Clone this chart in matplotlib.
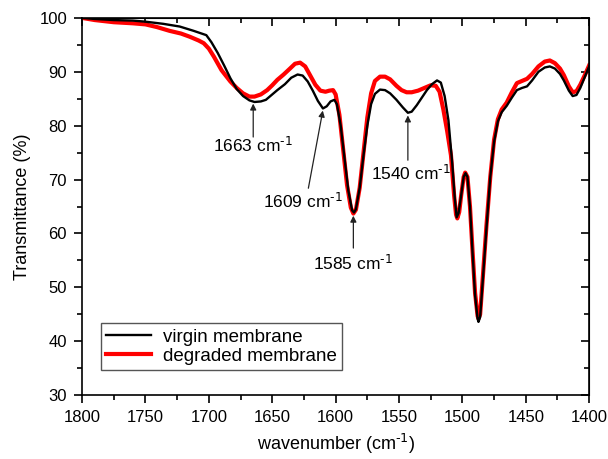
import matplotlib
matplotlib.use('Agg')
import matplotlib.pyplot as plt
from matplotlib.ticker import MultipleLocator

plt.rcParams['font.family'] = ['Liberation Sans', 'DejaVu Sans']
plt.rcParams['mathtext.default'] = 'regular'

# virgin membrane (black)
wn_virgin = [1800, 1790, 1775, 1760, 1750, 1736, 1723, 1712, 1702, 1698, 1693, 1688,
             1683, 1678, 1673, 1668, 1664, 1659, 1655, 1651, 1646, 1640, 1635, 1630,
             1626, 1622, 1618, 1614, 1610, 1607, 1604, 1601, 1599, 1596, 1593, 1590,
             1587, 1585.5, 1584, 1581, 1578, 1575, 1572, 1569, 1565, 1561, 1557, 1552,
             1547, 1543, 1540, 1536, 1532, 1528, 1524, 1520, 1517, 1514, 1511, 1508,
             1506, 1504.5, 1503, 1501, 1499, 1497.5, 1496, 1494, 1492, 1490, 1488,
             1487.3, 1486, 1484, 1481, 1478, 1475, 1472, 1469, 1465, 1461, 1457, 1453,
             1449, 1445, 1440, 1435, 1431, 1427, 1423, 1420, 1416, 1413, 1410, 1407,
             1403, 1400]
t_virgin = [100.0, 99.8, 99.6, 99.5, 99.3, 98.9, 98.4, 97.6, 96.8, 95.5, 93.5, 91.2,
            88.8, 86.8, 85.5, 84.7, 84.4, 84.5, 84.8, 85.6, 86.6, 87.7, 88.9, 89.5,
            89.3, 88.2, 86.5, 84.6, 83.2, 83.6, 84.5, 84.8, 84.0, 80.0, 74.0, 68.0,
            64.3, 63.9, 64.5, 68.5, 74.5, 80.0, 84.0, 85.9, 86.7, 86.6, 86.0, 84.8,
            83.4, 82.4, 82.6, 83.8, 85.2, 86.6, 87.7, 88.4, 88.0, 85.5, 81.0, 73.0,
            66.5, 63.0, 63.8, 67.0, 70.5, 71.2, 70.5, 65.0, 56.5, 48.5, 44.2,
            43.6, 44.5, 51.0, 61.0, 70.5, 77.0, 80.8, 82.5, 83.7, 85.2, 86.6, 87.0,
            87.3, 88.4, 90.0, 90.8, 91.0, 90.6, 89.6, 88.4, 86.5, 85.5, 85.7, 87.0,
            89.3, 91.0]

# degraded membrane (red)
wn_degraded = [1800, 1790, 1775, 1760, 1750, 1741, 1731, 1722, 1715, 1708, 1704, 1700,
               1696, 1690, 1683, 1678, 1673, 1668, 1664, 1659, 1654, 1650, 1646, 1641,
               1636, 1632, 1628, 1624, 1620, 1616, 1612, 1608, 1605, 1602, 1600, 1597,
               1594, 1591, 1588, 1586, 1584, 1581, 1578, 1575, 1572, 1569, 1565, 1561,
               1557, 1552, 1548, 1544, 1540, 1535, 1530, 1525, 1521, 1518, 1515, 1512,
               1509, 1506.5, 1505, 1504, 1502.5, 1501, 1499, 1497.8, 1496, 1494, 1492,
               1490, 1488, 1487.3, 1486, 1484, 1481, 1478, 1475, 1472, 1469, 1465, 1461,
               1457, 1453, 1449, 1445, 1440, 1435, 1431, 1427, 1423, 1420, 1416, 1413,
               1410, 1407, 1403, 1400]
t_degraded = [100.0, 99.6, 99.2, 99.0, 98.8, 98.3, 97.6, 97.1, 96.5, 95.8, 95.3, 94.3,
              92.8, 90.3, 88.2, 87.0, 86.0, 85.4, 85.4, 85.8, 86.6, 87.5, 88.5, 89.5,
              90.6, 91.5, 91.7, 91.0, 89.3, 87.6, 86.5, 86.3, 86.5, 86.6, 85.8, 82.0,
              75.5, 69.0, 64.8, 63.7, 64.4, 68.5, 75.0, 81.5, 86.0, 88.3, 89.1, 89.1,
              88.6, 87.4, 86.6, 86.2, 86.2, 86.5, 87.0, 87.5, 87.4, 86.3, 83.0, 79.0,
              74.5, 67.0, 63.5, 62.8, 64.0, 67.0, 70.5, 71.3, 70.5, 65.0, 56.8,
              49.0, 44.7, 44.2, 45.0, 51.5, 61.5, 70.5, 77.4, 81.2, 83.0, 84.3, 86.2,
              87.9, 88.3, 88.7, 89.6, 91.0, 91.9, 92.1, 91.6, 90.6, 89.4, 87.3, 86.2,
              86.4, 87.6, 89.6, 91.2]

# peak labels: text, text position, arrow tail, arrow head
peak_labels = ['1663', '1609', '1585', '1540']
label_xy = [(1665, 76.3), (1625.6, 65.9), (1586.6, 54.5), (1540.8, 71.2)]
tail_xy = [(1665, 77.9), (1621.5, 68.4), (1586, 57.3), (1543, 73.6)]
head_xy = [(1665, 84.1), (1610.1, 82.8), (1586, 63.3), (1543, 81.9)]

fig = plt.figure(figsize=(6.08, 4.59), dpi=100)
ax = fig.add_axes([0.135, 0.139, 0.834, 0.822])

ax.plot(wn_virgin, t_virgin, color='black', lw=1.7, label='virgin membrane', zorder=3)
ax.plot(wn_degraded, t_degraded, color='#ff0000', lw=3.0, label='degraded membrane', zorder=2)

for lab, txy, a, b in zip(peak_labels, label_xy, tail_xy, head_xy):
    ax.annotate('', xy=b, xytext=a,
                arrowprops=dict(arrowstyle='-|>', color='#222222', lw=0.9,
                                mutation_scale=9, shrinkA=0, shrinkB=0))
    ax.text(txy[0], txy[1], lab + r' cm$^{\text{-1}}$', ha='center', va='center',
            fontsize=12.5)

ax.set_xlim(1800, 1400)
ax.set_ylim(30, 100)
ax.xaxis.set_major_locator(MultipleLocator(50))
ax.xaxis.set_minor_locator(MultipleLocator(25))
ax.yaxis.set_major_locator(MultipleLocator(10))
ax.yaxis.set_minor_locator(MultipleLocator(5))
ax.tick_params(which='both', direction='out', top=False, right=False, labelsize=12, width=1.2)
ax.tick_params(which='major', length=5.8, pad=5)
ax.tick_params(which='minor', length=3.6)

# inward ticks on top and right, like Origin
top = ax.secondary_xaxis('top')
top.xaxis.set_major_locator(MultipleLocator(50))
top.xaxis.set_minor_locator(MultipleLocator(25))
top.tick_params(which='both', direction='in', labeltop=False, width=1.2)
top.tick_params(which='major', length=5.8)
top.tick_params(which='minor', length=3.6)
right = ax.secondary_yaxis('right')
right.yaxis.set_major_locator(MultipleLocator(10))
right.yaxis.set_minor_locator(MultipleLocator(5))
right.tick_params(which='both', direction='in', labelright=False, width=1.2)
right.tick_params(which='major', length=5.8)
right.tick_params(which='minor', length=3.6)

for s in ax.spines.values():
    s.set_linewidth(1.2)

ax.set_xlabel(r'wavenumber (cm$^{\text{-1}}$)', fontsize=13, labelpad=5)
ax.set_ylabel('Transmittance (%)', fontsize=13, labelpad=6)

leg = ax.legend(loc='lower left', bbox_to_anchor=(0.037, 0.066), borderaxespad=0,
                fontsize=13.5, fancybox=False, framealpha=1, edgecolor='#555555',
                handlelength=2.4, borderpad=0.3, labelspacing=0.1, handletextpad=0.6)
leg.get_frame().set_linewidth(1.0)

fig.savefig('out.png', dpi=100)
